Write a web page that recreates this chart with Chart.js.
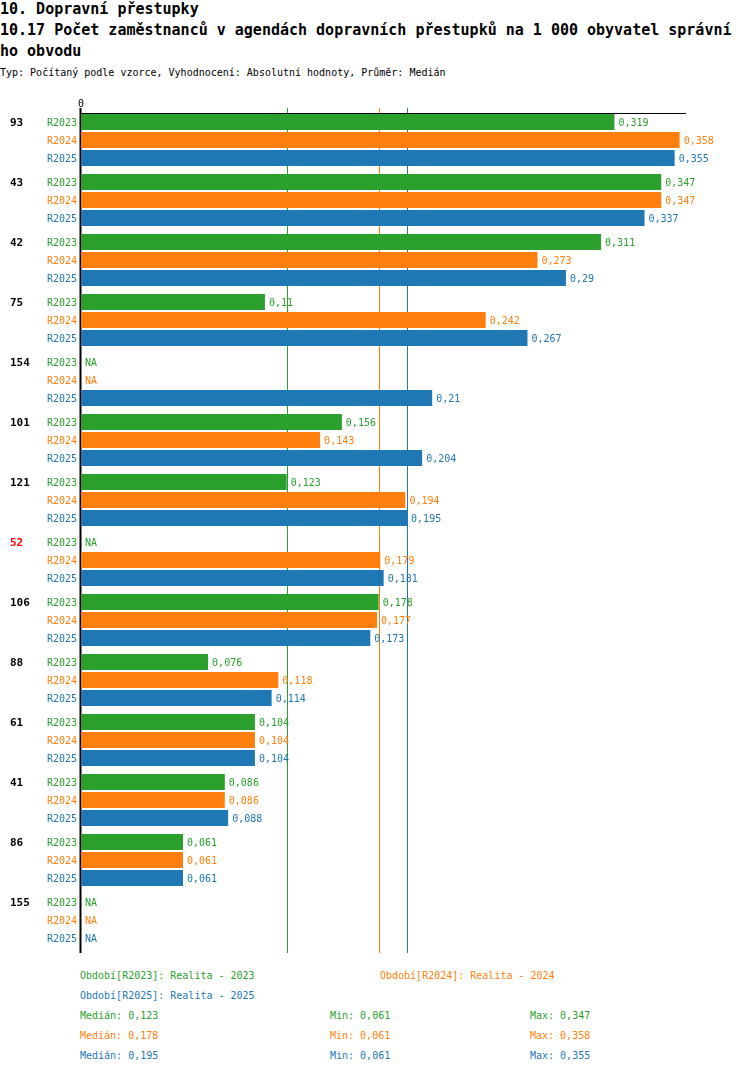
<!DOCTYPE html>
<html><head><meta charset="utf-8">
<script src="https://cdn.jsdelivr.net/npm/chart.js@4"></script>
<style>
body{margin:0;background:#fff;width:750px;height:1074px;position:relative;overflow:hidden;font-family:"DejaVu Sans Mono",monospace;}
.t{position:absolute;left:0;white-space:pre;}
.h{font-size:15px;font-weight:bold;line-height:20px;color:#000;}
.s{font-size:10px;line-height:14px;color:#000;}
.l{font-size:10px;line-height:20px;}
#wrap{position:absolute;left:0;top:0;width:750px;height:960px;}
</style></head><body>
<div class="t h" style="top:-1px">10. Dopravní přestupky</div>
<div class="t h" style="top:20px">10.17 Počet zaměstnanců v agendách dopravních přestupků na 1 000 obyvatel správní</div>
<div class="t h" style="top:41px">ho obvodu</div>
<div class="t s" style="top:66px">Typ: Počítaný podle vzorce, Vyhodnocení: Absolutní hodnoty, Průměr: Medián</div>
<div id="wrap"><canvas id="c"></canvas></div>
<div id="legend"></div>
<script>
const groups = ['93','43','42','75','154','101','121','52','106','88','61','41','86','155'];
const highlighted = ['52'];
const seriesNames = ['R2023','R2024','R2025'];
const seriesLegend = ['Období[R2023]: Realita - 2023','Období[R2024]: Realita - 2024','Období[R2025]: Realita - 2025'];
const r2023 = [0.319,0.347,0.311,0.11,null,0.156,0.123,null,0.178,0.076,0.104,0.086,0.061,null];
const r2024 = [0.358,0.347,0.273,0.242,null,0.143,0.194,0.179,0.177,0.118,0.104,0.086,0.061,null];
const r2025 = [0.355,0.337,0.29,0.267,0.21,0.204,0.195,0.181,0.173,0.114,0.104,0.088,0.061,null];
const medians = [0.123,0.178,0.195];
const mins = [0.061,0.061,0.061];
const maxs = [0.347,0.358,0.355];
const xTicks = [0];
const colors = ['#2ca02c','#ff7f0e','#1f77b4'];
const series = [r2023,r2024,r2025];

const fmt = v => String(v).replace('.', ',');
const FONT = '"DejaVu Sans Mono", monospace';
const TY = 1.5; // text vertical nudge

// legend
const lg = document.getElementById('legend');
function addText(txt, left, top, color){
  const d = document.createElement('div');
  d.className = 't l'; d.style.left = left+'px'; d.style.top = top+'px'; d.style.color = color;
  d.textContent = txt; lg.appendChild(d);
}
seriesLegend.forEach((t,i)=>addText(t, 80 + (i%2)*300, 966 + Math.floor(i/2)*20, colors[i]));
for(let i=0;i<3;i++){
  const top = 1006 + i*20;
  addText('Medián: '+fmt(medians[i]), 80, top, colors[i]);
  addText('Min: '+fmt(mins[i]), 330, top, colors[i]);
  addText('Max: '+fmt(maxs[i]), 530, top, colors[i]);
}

const decor = {
  id:'decor',
  beforeDatasetsDraw(chart){
    const {ctx, chartArea:a, scales:{x}} = chart;
    ctx.save();
    ctx.lineWidth = 1;
    medians.forEach((m,i)=>{
      const px = Math.round(x.getPixelForValue(m)) + 0.5;
      ctx.strokeStyle = colors[i];
      ctx.beginPath(); ctx.moveTo(px, a.top-2); ctx.lineTo(px, a.bottom+3); ctx.stroke();
    });
    const x0 = x.getPixelForValue(0);
    ctx.strokeStyle = '#000';
    ctx.beginPath(); ctx.moveTo(x0-1, a.top+3.5); ctx.lineTo(a.right, a.top+3.5); ctx.stroke();
    ctx.lineWidth = 2;
    ctx.beginPath(); ctx.moveTo(x0-0.5, a.top-2); ctx.lineTo(x0-0.5, a.bottom+3); ctx.stroke();
    ctx.fillStyle = '#000'; ctx.font = '10px '+FONT; ctx.textAlign = 'center'; ctx.textBaseline = 'middle';
    xTicks.forEach(t=>ctx.fillText(String(t), x.getPixelForValue(t), a.top-6));
    ctx.restore();
  },
  afterDatasetsDraw(chart){
    const {ctx, scales:{x,y}} = chart;
    const x0 = x.getPixelForValue(0);
    const band = y.getPixelForValue(1) - y.getPixelForValue(0);
    const slot = band*0.9/3;
    ctx.save();
    ctx.textBaseline = 'middle';
    groups.forEach((g,j)=>{
      const c = y.getPixelForValue(j);
      ctx.font = 'bold 11px '+FONT; ctx.textAlign = 'left';
      ctx.fillStyle = highlighted.includes(g) ? '#ff0000' : '#000';
      ctx.fillText(g, 10, c - slot + TY);
      series.forEach((s,i)=>{
        const ry = c + (i-1)*slot + TY;
        ctx.font = '10px '+FONT;
        ctx.fillStyle = colors[i];
        ctx.textAlign = 'right';
        ctx.fillText(seriesNames[i], 77, ry);
        ctx.textAlign = 'left';
        const v = s[j];
        if(v === null){ ctx.fillText('NA', x0+4, ry); }
        else { ctx.fillText(fmt(v), x.getPixelForValue(v)+4, ry); }
      });
    });
    ctx.restore();
  }
};

new Chart(document.getElementById('c'), {
  type:'bar',
  data:{ labels:groups, datasets: series.map((s,i)=>({label:seriesNames[i], data:s, backgroundColor:colors[i], borderWidth:0, categoryPercentage:0.9, barPercentage:16/18})) },
  options:{
    indexAxis:'y', responsive:true, maintainAspectRatio:false, animation:false,
    layout:{padding:{left:81,right:64,top:110,bottom:10}},
    plugins:{legend:{display:false}, tooltip:{enabled:false}},
    scales:{ x:{display:false,min:0,max:0.3618}, y:{display:false} }
  },
  plugins:[decor]
});
</script>
</body></html>
